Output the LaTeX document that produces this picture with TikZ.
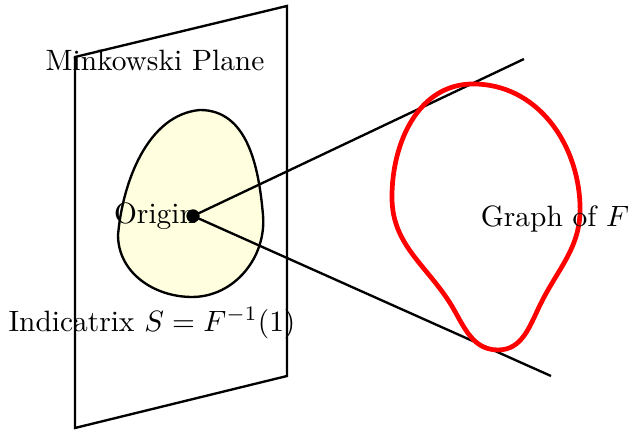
\documentclass[tikz,border=0pt]{standalone}
\usetikzlibrary{calc}
\definecolor{eggfill}{HTML}{FFFFE0}
\definecolor{graphred}{HTML}{FF0000}
\tikzset{edge/.style={thick, black}}

\begin{document}
\begin{tikzpicture}
  \useasboundingbox (0,0) rectangle (7.515,5.137);
  % the plane
  \draw[edge] (0.896,4.456) -- (3.429,5.066) -- (3.429,0.645) -- (0.896,0.024) -- cycle;
  % indicatrix
  \draw[edge, fill=eggfill] (2.389,3.823) to[out=0, in=95] (3.142,2.569)
    to[out=-85, in=0] (2.294,1.589) to[out=180, in=-90] (1.410,2.330)
    to[out=85, in=185, looseness=0.9] cycle;
  \node[circle, fill, inner sep=1.6pt] (o) at (2.306,2.557) {};
  \coordinate (up) at (6.260,4.432);
  \coordinate (down) at (6.583,0.645);
  \draw[edge] (o.center) -- (up);
  \draw[edge] (o.center) -- (down);
  % graph of F
  \draw[graphred, line width=1.6pt] (5.651,4.134) to[out=0, in=92] (6.930,2.688)
    to[out=-88, in=64] (6.452,1.493) to[out=-116, in=0] (5.950,0.956)
    to[out=180, in=-55] (5.329,1.589) to[out=125, in=-90] (4.683,2.784)
    to[out=90, in=180] cycle;
  \node (plane) at (1.852,4.409) {Minkowski Plane};
  \node (origin) at (1.852,2.557) {Origin};
  \node (indic) at (1.816,1.278) {Indicatrix $S=F^{-1}(1)$};
  \node (graph) at (6.631,2.521) {Graph of $F$};
\end{tikzpicture}
\end{document}
